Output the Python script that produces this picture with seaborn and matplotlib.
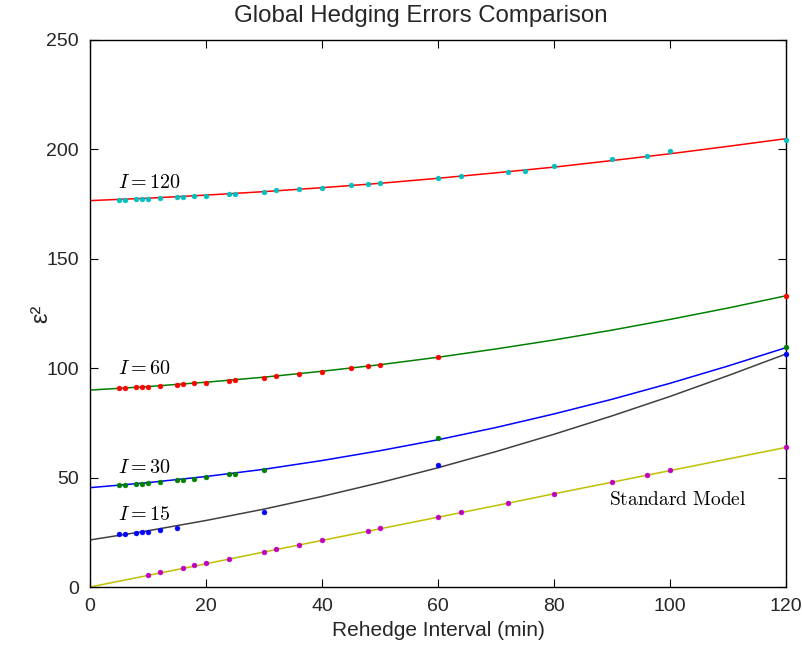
import numpy as np
import pandas as pd
import matplotlib
matplotlib.use("Agg")
import matplotlib.pyplot as plt
import seaborn as sns

# ---------------- data ----------------
curve_x = [0, 10, 20, 30, 40, 50, 60, 70, 80, 90, 100, 110, 120]
curve_i120 = [176.6, 177.7, 179.1, 180.7, 182.5, 184.5, 186.8, 189.3, 191.9, 194.9, 198.0, 201.4, 204.9]
curve_i60 = [90.0, 91.6, 93.6, 95.9, 98.6, 101.6, 105.0, 108.8, 112.9, 117.4, 122.3, 127.5, 133.1]
curve_i30 = [45.4, 47.7, 50.5, 53.8, 57.8, 62.3, 67.3, 72.9, 79.1, 85.8, 93.1, 101.0, 109.4]
curve_i15 = [21.5, 25.7, 30.4, 35.6, 41.4, 47.7, 54.5, 61.9, 69.8, 78.2, 87.1, 96.6, 106.5]
curve_std = [0.0, 5.3, 10.6, 16.0, 21.3, 26.6, 31.9, 37.2, 42.6, 47.9, 53.2, 58.5, 63.8]

pts120_x = [5, 6, 8, 9, 10, 12, 15, 16, 18, 20, 24, 25, 30, 32, 36, 40, 45, 48, 50, 60,
            64, 72, 75, 80, 90, 96, 100, 120]
pts120_y = [177.1, 177.1, 177.2, 177.2, 177.3, 177.8, 178.2, 178.2, 178.8, 178.8, 179.8, 179.8,
            180.5, 181.3, 181.8, 182.5, 183.6, 184.2, 184.8, 186.8,
            187.8, 189.5, 190.3, 192.4, 195.5, 197.1, 199.4, 204.3]

pts60_x = [5, 6, 8, 9, 10, 12, 15, 16, 18, 20, 24, 25, 30, 32, 36, 40, 45, 48, 50, 60, 120]
pts60_y = [91.0, 91.0, 91.3, 91.3, 91.5, 91.9, 92.3, 92.6, 93.1, 93.4, 94.3, 94.6,
           95.7, 96.4, 97.3, 98.4, 99.9, 100.9, 101.6, 105.0, 133.1]

pts30_x = [5, 6, 8, 9, 10, 12, 15, 16, 18, 20, 24, 25, 30, 60, 120]
pts30_y = [46.6, 46.6, 47.2, 47.3, 47.7, 48.0, 48.8, 48.9, 49.5, 50.1, 51.6, 51.7, 53.5, 68.2, 109.7]

pts15_x = [5, 6, 8, 9, 10, 12, 15, 30, 60, 120]
pts15_y = [24.1, 24.3, 24.8, 25.0, 25.3, 26.0, 27.1, 34.4, 55.8, 106.5]

ptsstd_x = [10, 12, 16, 18, 20, 24, 30, 32, 36, 40, 48, 50, 60, 64, 72, 80, 90, 96, 100, 120]
ptsstd_y = [5.5, 6.7, 8.8, 9.9, 11.0, 12.9, 16.1, 17.4, 19.3, 21.5, 25.6, 26.8,
            32.1, 34.1, 38.5, 42.6, 48.0, 51.2, 53.3, 63.8]

labels = ["$I = 120$", "$I = 60$", "$I = 30$", "$I = 15$"]
label_y = [185.0, 100.0, 54.5, 33.0]
std_label = "Standard Model"

# ---------------- style ----------------
sns.set_style("white")
plt.rcParams["font.family"] = ["Liberation Sans", "DejaVu Sans"]
plt.rcParams["mathtext.fontset"] = "cm"

fig = plt.figure(figsize=(8.03, 6.49), dpi=100)
ax = fig.add_axes([90 / 803, 1 - 587 / 649, 696 / 803, 547 / 649])

line_specs = [
    (curve_i120, (1.0, 0.0, 0.0)),
    (curve_i60, (0.0, 0.5, 0.0)),
    (curve_i30, (0.0, 0.0, 1.0)),
    (curve_i15, (0.25, 0.25, 0.25)),
    (curve_std, (0.75, 0.75, 0.0)),
]
for ys, col in line_specs:
    df = pd.DataFrame({"x": curve_x, "y": ys})
    sns.lineplot(data=df, x="x", y="y", color=col, linewidth=1.1, ax=ax, zorder=2)

pt_specs = [
    (pts120_x, pts120_y, (0.0, 0.75, 0.75)),
    (pts60_x, pts60_y, (1.0, 0.0, 0.0)),
    (pts30_x, pts30_y, (0.0, 0.5, 0.0)),
    (pts15_x, pts15_y, (0.0, 0.0, 1.0)),
    (ptsstd_x, ptsstd_y, (0.75, 0.0, 0.75)),
]
for xs, ys, col in pt_specs:
    df = pd.DataFrame({"x": xs, "y": ys})
    sns.scatterplot(data=df, x="x", y="y", color=col, s=12, edgecolor=col,
                    linewidth=0.4, ax=ax, zorder=3, clip_on=False)

for txt, yy in zip(labels, label_y):
    ax.text(4.8, yy, txt, fontsize=14.5, ha="left", va="center", color="black")
ax.text(89.5, 39.8, r"$\mathrm{Standard\ Model}$", fontsize=14, ha="left",
        va="center", color="black")

ax.set_xlim(0, 120)
ax.set_ylim(0, 250)
ax.set_xticks([0, 20, 40, 60, 80, 100, 120])
ax.set_yticks([0, 50, 100, 150, 200, 250])
ax.tick_params(direction="in", length=6, width=0.8, color="black",
               labelsize=14, top=True, right=True, bottom=True, left=True,
               pad=8)
for sp in ax.spines.values():
    sp.set_color("black")
    sp.set_linewidth(1.0)

ax.set_title("Global Hedging Errors Comparison", fontsize=17.3, pad=13, x=0.4756)
ax.set_xlabel("Rehedge Interval (min)", fontsize=15, labelpad=4)
ax.set_ylabel("ε²", fontsize=17, labelpad=-4)

fig.savefig("out.png", dpi=100)
